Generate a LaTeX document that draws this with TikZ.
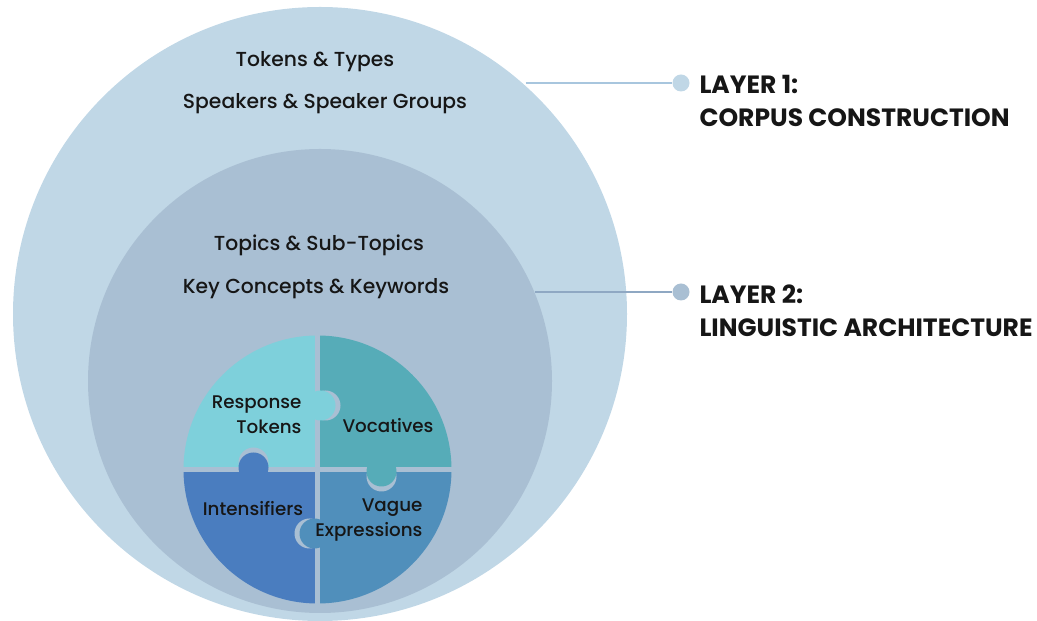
\documentclass[tikz,border=0pt]{standalone}
\usepackage{fontspec}
\setmainfont{Poppins}[UprightFont={* Medium}, BoldFont={* Bold}]
\definecolor{outerblue}{HTML}{C0D7E6}
\definecolor{innerblue}{HTML}{A9BFD3}
\definecolor{piececyan}{HTML}{7ED0DB}
\definecolor{pieceteal}{HTML}{56ACB8}
\definecolor{pieceblue}{HTML}{4A7DBF}
\definecolor{piecesteel}{HTML}{508FBB}
\definecolor{lineone}{HTML}{A8C6DE}
\definecolor{linetwo}{HTML}{8FA8C3}
\definecolor{ink}{HTML}{161616}

\begin{document}
\begin{tikzpicture}[x=1pt, y=1pt,
    ringtext/.style={font=\fontsize{20.3}{22}\selectfont, text=ink},
    piecetext/.style={font=\fontsize{18.3}{25}\selectfont, text=ink, align=right},
    layertext/.style={font=\fontsize{25}{33}\selectfont\bfseries, text=ink, align=left, anchor=west},
    layerdot/.style={circle, inner sep=0pt, minimum size=17pt}]
    \useasboundingbox (0,0) rectangle (1037,621);
    % the two layers
    \node[circle, fill=outerblue, inner sep=0pt, minimum size=614pt] (outer) at (320,307) {};
    \node[circle, fill=innerblue, inner sep=0pt, minimum size=464pt] (inner) at (320,240) {};
    \node[ringtext] (tokens) at (315,559) {Tokens \& Types};
    \node[ringtext] (speakers) at (325,517) {Speakers \& Speaker Groups};
    \node[ringtext] (topics) at (319,376) {Topics \& Sub-Topics};
    \node[ringtext] (concepts) at (316,332) {Key Concepts \& Keywords};
    % puzzle
    \coordinate (P) at (317.5,151.5);
    \fill[piececyan] (P) -- ++(180:134pt) arc[start angle=180, end angle=90, radius=134pt] -- cycle;
    \fill[pieceteal] (P) -- ++(90:134pt) arc[start angle=90, end angle=0, radius=134pt] -- cycle;
    \fill[piecesteel] (P) -- ++(0:134pt) arc[start angle=0, end angle=-90, radius=134pt] -- cycle;
    \fill[pieceblue] (P) -- ++(-90:134pt) arc[start angle=-90, end angle=-180, radius=134pt] -- cycle;
    \draw[innerblue, line width=5pt] ([xshift=-136pt]P) -- ([xshift=136pt]P);
    \draw[innerblue, line width=5pt] ([yshift=-136pt]P) -- ([yshift=136pt]P);
    \foreach \dx/\dy/\rx/\ry/\col in {3/64/5/0/piececyan, -64/2/0/5/pieceblue, 64/-2/0/-5/pieceteal, -3/-64/-5/0/piecesteel}{
        \fill[innerblue] (P) ++(\dx+\rx,\dy+\ry) circle[radius=15pt];
        \fill[\col] (P) ++(\dx,\dy) circle[radius=15pt];
    }
    \node[piecetext, anchor=east] (response) at (305,206) {Response\\Tokens};
    \node[piecetext] (vocatives) at (388,195.5) {Vocatives};
    \node[piecetext] (intens) at (253,112.5) {Intensifiers};
    \node[piecetext, anchor=east] (vague) at (426,100.5) {Vague\\Expressions};
    % layer labels
    \node[layerdot, fill=outerblue] (dotone) at (681,538) {};
    \node[layerdot, fill=innerblue] (dottwo) at (681,329) {};
    \draw[lineone, line width=2.5pt] (outer.48.8 |- dotone) -- (dotone);
    \draw[linetwo, line width=2.5pt] (inner.22.6 |- dottwo) -- (dottwo);
    \node[layertext] (layerone) at (696,520) {LAYER 1:\\CORPUS CONSTRUCTION};
    \node[layertext] (layertwo) at (696,310.5) {LAYER 2:\\LINGUISTIC ARCHITECTURE};
\end{tikzpicture}
\end{document}
